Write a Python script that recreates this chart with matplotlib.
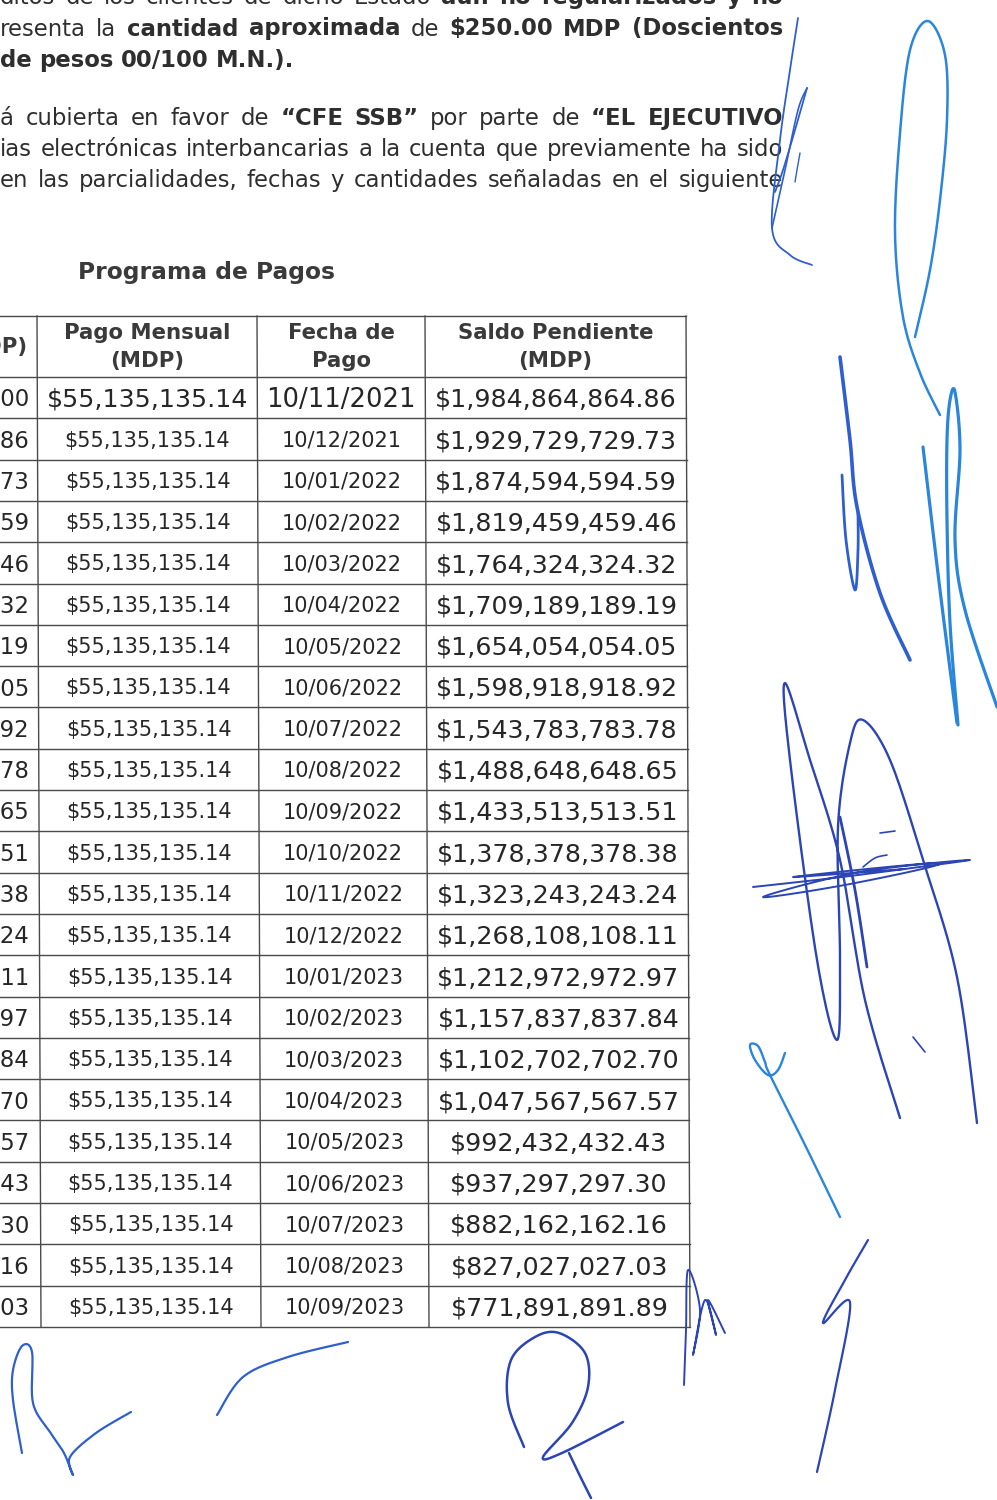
import numpy as np
import matplotlib.pyplot as plt

# ---- data ----
fechas = ["10/11/2021", "10/12/2021", "10/01/2022", "10/02/2022", "10/03/2022",
          "10/04/2022", "10/05/2022", "10/06/2022", "10/07/2022", "10/08/2022",
          "10/09/2022", "10/10/2022", "10/11/2022", "10/12/2022", "10/01/2023",
          "10/02/2023", "10/03/2023", "10/04/2023", "10/05/2023", "10/06/2023",
          "10/07/2023", "10/08/2023", "10/09/2023"]
pago_mensual = [55135135.14] * 23
saldo_pendiente = [1984864864.86, 1929729729.73, 1874594594.59, 1819459459.46,
                   1764324324.32, 1709189189.19, 1654054054.05, 1598918918.92,
                   1543783783.78, 1488648648.65, 1433513513.51, 1378378378.38,
                   1323243243.24, 1268108108.11, 1212972972.97, 1157837837.84,
                   1102702702.70, 1047567567.57, 992432432.43, 937297297.30,
                   882162162.16, 827027027.03, 771891891.89]
saldo_inicial = 2040000000.00
saldo_anterior = [saldo_inicial] + saldo_pendiente[:-1]

encabezados = ["(MDP)", "Pago Mensual\n(MDP)", "Fecha de\nPago", "Saldo Pendiente\n(MDP)"]
titulo = "Programa de Pagos"

parrafo1 = [
    [("ditos de los clientes de dicho Estado", False), ("aún no regularizados y no", True)],
    [("resenta la", False), ("cantidad aproximada", True), ("de", False),
     ("$250.00 MDP (Doscientos", True)],
    [("de pesos 00/100 M.N.).", True)],
]
parrafo2 = [
    [("á cubierta en favor de", False), ("“CFE SSB”", True), ("por parte de", False),
     ("“EL EJECUTIVO", True)],
    [("ias electrónicas interbancarias a la cuenta que previamente ha sido", False)],
    [("en las parcialidades, fechas y cantidades señaladas en el siguiente", False)],
]

W, H = 997, 1500
TXT = "#2e2e2e"
plt.rcParams['font.family'] = ['DejaVu Sans']

fig = plt.figure(figsize=(W / 100, H / 100), dpi=100)
ax = fig.add_axes([0, 0, 1, 1])
ax.set_xlim(0, W)
ax.set_ylim(H, 0)
ax.axis('off')
rend = fig.canvas.get_renderer()


def text_width(s, size, weight):
    t = ax.text(0, 0, s, fontsize=size, fontweight=weight)
    w = t.get_window_extent(rend).width
    t.remove()
    return w


def draw_line(runs, y, x0, x1, size, justify=True):
    # y is the baseline
    words = []
    for txt, bold in runs:
        for w in txt.split():
            words.append((w, 'bold' if bold else 'normal'))
    widths = [text_width(w, size, wt) for w, wt in words]
    space = text_width("a a", size, 'normal') - text_width("aa", size, 'normal')
    gap = space
    if justify and len(words) > 1:
        gap = (x1 - x0 - sum(widths)) / (len(words) - 1)
        if gap < 0.8 * space:
            # line is cut on the left edge of the scan
            gap = 0.8 * space
            x0 = x1 - sum(widths) - gap * (len(words) - 1)
    x = x0
    for (w, wt), wd in zip(words, widths):
        ax.text(x, y, w, fontsize=size, fontweight=wt, color=TXT, va='baseline', ha='left')
        x += wd + gap


# paragraphs
body = 16.4
for i, runs in enumerate(parrafo1):
    draw_line(runs, 4 + 31.5 * i, 0, 783, body, justify=(i < 2))
for i, runs in enumerate(parrafo2):
    draw_line(runs, 125 + 31 * i, 0, 783, body)

ax.text(78, 273, titulo, fontsize=16.8, fontweight='bold', color="#3a3a3a",
        va='center', ha='left')

# ---- table ----
top, head_bot, bottom = 316, 377, 1327
nrows = len(fechas)
rh = (bottom - head_bot) / nrows
cols = [37, 257, 425, 686]
skew = 4.0  # scan is slightly tilted
line_kw = dict(color="#4a4a4a", lw=1.0)


def sx(x, y):
    return x + skew * (y - top) / (bottom - top)


for y in [top, head_bot] + [head_bot + rh * (i + 1) for i in range(nrows)]:
    ax.plot([0, sx(cols[-1], y)], [y, y], **line_kw)
for x in cols:
    ax.plot([x, sx(x, bottom)], [top, bottom], **line_kw)

# header
hy = (top + head_bot) / 2
ax.text(27, hy, encabezados[0], fontsize=15.3, fontweight='bold', color="#3a3a3a",
        ha='right', va='center')
for j, lab in enumerate(encabezados[1:]):
    cx = (cols[j] + cols[j + 1]) / 2
    for k, part in enumerate(lab.split("\n")):
        ax.text(cx, 333 + 28 * k, part, fontsize=15.3, fontweight='bold',
                color="#3a3a3a", ha='center', va='center')


def money(v):
    return f"${v:,.2f}"


def put(x, ha, yc, s, size):
    # place digits centred on the row using the baseline
    ax.text(x, yc + 0.729 * size * 100 / 72 / 2, s, fontsize=size, color="#262626",
            ha=ha, va='baseline')


SALDO = 18.2
for i in range(nrows):
    yc = head_bot + rh * (i + 0.5)
    first = i == 0
    put(29, 'right', yc, money(saldo_anterior[i]), 16.4)
    put(sx((cols[0] + cols[1]) / 2, yc), 'center', yc, money(pago_mensual[i]),
        18.2 if first else 15)
    put(sx((cols[1] + cols[2]) / 2, yc), 'center', yc, fechas[i], 18.6 if first else 15)
    put(sx((cols[2] + cols[3]) / 2, yc), 'center', yc, money(saldo_pendiente[i]), SALDO)

# ---- signatures (decoration over the scan) ----


def smooth(pts, n=14):
    p = np.asarray(pts, float)
    p = np.vstack([p[0], p, p[-1]])
    out = []
    for i in range(1, len(p) - 2):
        p0, p1, p2, p3 = p[i - 1], p[i], p[i + 1], p[i + 2]
        t = np.linspace(0, 1, n)[:, None]
        out.append(0.5 * ((2 * p1) + (-p0 + p2) * t + (2 * p0 - 5 * p1 + 4 * p2 - p3) * t ** 2
                          + (-p0 + 3 * p1 - 3 * p2 + p3) * t ** 3))
    return np.vstack(out)


DARK, MID, LIGHT = "#2c45b5", "#2f5fcf", "#2a86dc"
strokes = [
    # near the paragraph end
    ([(798, 18), (790, 70), (780, 140), (772, 228), (790, 255), (812, 265)], MID, 1.3),
    ([(807, 88), (795, 130), (783, 170), (775, 192)], MID, 1.3),
    ([(772, 228), (785, 170), (798, 110), (807, 88)], MID, 1.2),
    ([(800, 153), (797, 170), (795, 182)], MID, 1.0),
    # big loop top right
    ([(915, 337), (930, 270), (940, 200), (947, 120), (945, 55), (928, 21), (910, 50),
      (900, 133), (895, 233), (903, 317), (920, 373), (940, 415)], LIGHT, 1.8),
    # thick stroke + hook
    ([(840, 357), (850, 440), (857, 507), (880, 593), (910, 660)], MID, 2.6),
    ([(842, 475), (846, 540), (855, 590), (858, 550), (858, 513)], MID, 2.0),
    # right loop
    ([(958, 725), (950, 623), (947, 520), (947, 440), (950, 400), (955, 392), (960, 450),
      (955, 540), (965, 610), (997, 707)], LIGHT, 2.3),
    ([(923, 447), (940, 590), (957, 723)], LIGHT, 2.3),
    # large signature
    ([(900, 1118), (865, 1000), (840, 860), (810, 760), (785, 683), (790, 760),
      (817, 960), (837, 1040), (840, 960), (838, 827), (850, 743), (863, 720),
      (890, 760), (923, 860), (957, 977), (977, 1123)], DARK, 1.7),
    ([(753, 887), (850, 876), (970, 860), (860, 872), (763, 897), (850, 884),
      (940, 863), (793, 877), (905, 869)], DARK, 1.4),
    ([(840, 817), (855, 890), (867, 967)], DARK, 2.0),
    ([(880, 833), (895, 831)], DARK, 1.2),
    ([(913, 1037), (925, 1052)], DARK, 1.2),
    ([(863, 867), (875, 858), (887, 855)], DARK, 1.2),
    # small "e" with tail
    ([(785, 1053), (778, 1070), (768, 1075), (755, 1060), (750, 1045), (758, 1046),
      (765, 1062), (770, 1075), (805, 1145), (840, 1217)], LIGHT, 1.7),
    # "1"-like stroke
    ([(868, 1240), (845, 1280), (823, 1323), (850, 1302), (835, 1390), (817, 1472)], DARK, 1.6),
    # bottom signatures
    ([(22, 1453), (13, 1400), (13, 1370), (22, 1346), (32, 1352), (33, 1403), (50, 1432),
      (64, 1453), (73, 1475), (70, 1457), (96, 1433), (131, 1412)], MID, 1.6),
    ([(217, 1415), (243, 1377), (288, 1357), (348, 1342)], MID, 1.6),
    ([(524, 1447), (508, 1403), (511, 1360), (535, 1337), (559, 1333), (585, 1353),
      (588, 1387), (572, 1423), (543, 1457), (562, 1453), (623, 1422)], DARK, 1.8),
    ([(569, 1453), (580, 1476), (591, 1498)], DARK, 1.8),
    ([(684, 1385), (686, 1330), (688, 1270), (700, 1310), (693, 1355), (705, 1300),
      (716, 1335), (708, 1300), (725, 1333)], DARK, 1.4),
]
for pts, c, lw in strokes:
    xy = smooth(pts)
    ax.plot(xy[:, 0], xy[:, 1], color=c, lw=lw, solid_capstyle='round', zorder=5)

fig.savefig("out.png", dpi=100)
